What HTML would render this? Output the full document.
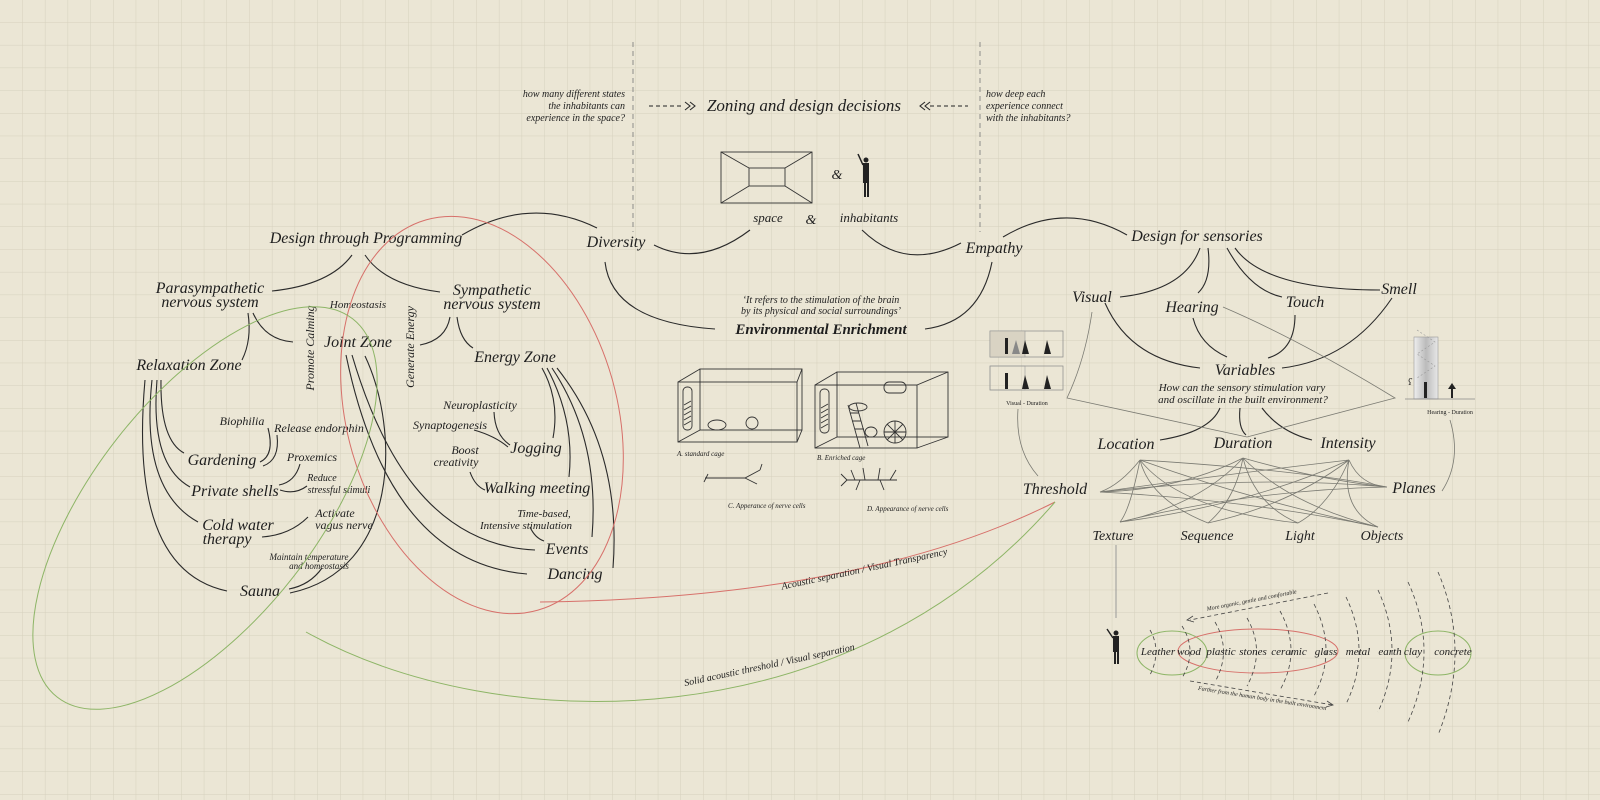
<!DOCTYPE html>
<html><head><meta charset="utf-8"><style>
html,body{margin:0;padding:0;background:#ebe6d5;}
svg{display:block;}
text{font-family:"Liberation Serif",serif;font-style:italic;fill:#1e1e1e;}
.L{font-size:16px;}
.S{font-size:12px;}
.T{font-size:10px;}
.ln{fill:none;stroke:#2a2a2a;stroke-width:1.1;}
.th{fill:none;stroke:#7a7a72;stroke-width:0.8;}
.sk{fill:none;stroke:#333;stroke-width:0.9;}
</style></head><body>
<svg width="1600" height="800" viewBox="0 0 1600 800" xmlns="http://www.w3.org/2000/svg">
<defs>
<pattern id="g" width="22.7" height="22.7" patternUnits="userSpaceOnUse" x="0" y="0">
<path d="M22.7 0V22.7M0 22.7H22.7" stroke="#d6d0bd" stroke-width="1" fill="none"/>
</pattern>
<linearGradient id="hg" x1="0" x2="1"><stop offset="0" stop-color="#eee"/><stop offset="0.5" stop-color="#bbb"/><stop offset="1" stop-color="#e8e8e8"/></linearGradient>
</defs>
<rect width="1600" height="800" fill="#ebe6d5"/>
<rect width="1600" height="800" fill="url(#g)"/>

<!-- top -->
<line x1="633" y1="42" x2="633" y2="232" stroke="#777" stroke-dasharray="5,4" stroke-width="0.8"/>
<line x1="980" y1="42" x2="980" y2="232" stroke="#777" stroke-dasharray="5,4" stroke-width="0.8"/>
<g class="T" text-anchor="end"><text x="625" y="97">how many different states</text><text x="625" y="109">the inhabitants can</text><text x="625" y="121">experience in the space?</text></g>
<g class="T"><text x="986" y="97">how deep each</text><text x="986" y="109">experience connect</text><text x="986" y="121">with the inhabitants?</text></g>
<text class="L" x="804" y="111" text-anchor="middle" style="font-size:17px">Zoning and design decisions</text>
<line x1="649" y1="106" x2="684" y2="106" stroke="#222" stroke-dasharray="4,3"/>
<path d="M685 102l5 4-5 4M690 102l5 4-5 4" class="ln"/>
<line x1="930" y1="106" x2="968" y2="106" stroke="#222" stroke-dasharray="4,3"/>
<path d="M925 102l-5 4 5 4M930 102l-5 4 5 4" class="ln"/>
<!-- space sketch -->
<rect x="721" y="152" width="91" height="51" class="sk"/>
<rect x="749" y="168" width="36" height="18" class="sk"/>
<path d="M721 152L749 168M812 152L785 168M721 203L749 186M812 203L785 186" class="sk"/>
<text x="837" y="179" text-anchor="middle" style="font-size:14px">&amp;</text>
<g fill="#222"><circle cx="866" cy="160" r="2.5"/><rect x="863" y="163" width="6" height="20"/><rect x="864" y="183" width="2" height="14"/><rect x="867" y="183" width="2" height="14"/><path d="M863 165L858 154" stroke="#222" stroke-width="1.5"/></g>
<text class="S" x="768" y="222" text-anchor="middle" style="font-size:13px">space</text>
<text x="811" y="224" text-anchor="middle" style="font-size:14px">&amp;</text>
<text class="S" x="869" y="222" text-anchor="middle" style="font-size:13px">inhabitants</text>

<text class="L" x="366" y="243" text-anchor="middle">Design through Programming</text>
<text class="L" x="616" y="247" text-anchor="middle">Diversity</text>
<text class="L" x="994" y="253" text-anchor="middle">Empathy</text>
<text class="L" x="1197" y="241" text-anchor="middle">Design for sensories</text>
<path class="ln" d="M462 235Q530 195 597 228"/>
<path class="ln" d="M654 245Q700 268 750 230"/>
<path class="ln" d="M862 230Q905 272 961 243"/>
<path class="ln" d="M1003 237Q1065 200 1127 235"/>
<path class="ln" d="M605 262Q612 322 715 329"/>
<path class="ln" d="M992 262Q980 322 925 329"/>
<g class="T" text-anchor="middle"><text x="821" y="303">‘It refers to the stimulation of the brain</text><text x="821" y="314">by its physical and social surroundings’</text></g>
<text x="821" y="334" text-anchor="middle" style="font-size:15px;font-weight:bold">Environmental Enrichment</text>

<!-- cages -->
<g class="sk">
<rect x="678" y="382" width="119" height="60"/><rect x="700" y="369" width="102" height="61"/>
<path d="M678 382L700 369M797 382L802 369M678 442L700 430M797 442L802 430"/>
<rect x="683" y="387" width="9" height="43" rx="4"/>
<path d="M684 405l7-4M684 410l7-4M684 415l7-4M684 420l7-4M684 425l7-4"/>
<ellipse cx="717" cy="425" rx="9" ry="5"/><ellipse cx="752" cy="423" rx="6" ry="6"/>
<rect x="815" y="385" width="102" height="63"/><rect x="837" y="372" width="111" height="65"/>
<path d="M815 385L837 372M917 385L948 372M815 448L837 437M917 448L948 437"/>
<rect x="820" y="389" width="9" height="44" rx="4"/>
<path d="M821 408l7-4M821 413l7-4M821 418l7-4M821 423l7-4M821 428l7-4"/>
<rect x="884" y="382" width="22" height="11" rx="5"/>
<path d="M848 405L860 448M856 403L868 446M850 413h9M852 421h9M855 429h9M857 437h9"/>
<ellipse cx="858" cy="407" rx="9" ry="4"/><ellipse cx="871" cy="432" rx="6" ry="5"/>
<circle cx="895" cy="432" r="11"/><path d="M884 432h22M895 421v22M887 424l16 16M903 424l-16 16"/>
<path d="M705 478h40l15-8M745 478l12 6M708 474l-4 8M760 470l2-6"/>
<path d="M847 480h50M855 480l-4-10M865 480l-2-12M878 480l2-12M890 480l6-10M860 480l-4 10M880 480l4 10M847 480l-6 6M847 480l-6-6"/>
</g>
<g style="font-size:7px" font-family="Liberation Sans"><text x="677" y="456">A. standard cage</text><text x="817" y="460">B. Enriched cage</text><text x="728" y="508">C. Apperance of nerve cells</text><text x="867" y="511">D. Appearance of nerve cells</text></g>

<!-- left tree -->
<text class="L" x="210" y="293" text-anchor="middle">Parasympathetic</text>
<text class="L" x="210" y="307" text-anchor="middle">nervous system</text>
<text class="L" x="492" y="295" text-anchor="middle">Sympathetic</text>
<text class="L" x="492" y="309" text-anchor="middle">nervous system</text>
<text class="T" x="358" y="308" text-anchor="middle" style="font-size:11px">Homeostasis</text>
<text class="S" transform="translate(314 348) rotate(-90)" text-anchor="middle">Promote Calming</text>
<text class="S" transform="translate(414 347) rotate(-90)" text-anchor="middle">Generate Energy</text>
<text class="L" x="358" y="347" text-anchor="middle">Joint Zone</text>
<text class="L" x="189" y="370" text-anchor="middle">Relaxation Zone</text>
<text class="L" x="515" y="362" text-anchor="middle">Energy Zone</text>
<g class="S" text-anchor="middle"><text x="480" y="409">Neuroplasticity</text><text x="450" y="429">Synaptogenesis</text><text x="465" y="454">Boost</text><text x="456" y="466">creativity</text>
<text x="242" y="425">Biophilia</text><text x="319" y="432">Release endorphin</text><text x="312" y="461">Proxemics</text>
<text x="322" y="481" style="font-size:10px">Reduce</text><text x="339" y="493" style="font-size:10px">stressful stimuli</text>
<text x="335" y="517">Activate</text><text x="344" y="529">vagus nerve</text>
<text x="544" y="517" style="font-size:11px">Time-based,</text><text x="526" y="529" style="font-size:11px">Intensive stimulation</text></g>
<g class="T" text-anchor="middle" style="font-size:9px"><text x="309" y="560">Maintain temperature</text><text x="319" y="569">and homeostasis</text></g>
<g class="L" text-anchor="middle"><text x="222" y="465">Gardening</text><text x="235" y="496">Private shells</text><text x="238" y="530">Cold water</text><text x="227" y="544">therapy</text><text x="260" y="596">Sauna</text>
<text x="536" y="453">Jogging</text><text x="537" y="493">Walking meeting</text><text x="567" y="554">Events</text><text x="575" y="579">Dancing</text></g>
<g class="ln">
<path d="M352 255Q330 285 272 291"/><path d="M365 255Q385 285 440 292"/>
<path d="M248 313Q252 340 242 360"/><path d="M253 313Q265 340 293 342"/>
<path d="M450 317Q446 340 420 345"/><path d="M457 317Q460 340 473 348"/>
<path d="M161 380Q160 440 184 453"/><path d="M157 380Q150 465 190 487"/><path d="M152 380Q140 490 198 522"/><path d="M145 380Q128 570 227 591"/>
<path d="M365 356C400 430 400 570 290 593"/><path d="M352 355C380 450 430 545 535 550"/><path d="M346 355C370 470 420 565 527 574"/>
<path d="M542 368Q560 400 553 438"/><path d="M547 368Q575 420 569 477"/><path d="M552 368Q600 440 592 537"/><path d="M557 368Q622 450 613 568"/>
<path d="M268 428Q275 455 260 462"/><path d="M277 435Q280 460 263 466"/>
<path d="M300 464Q295 482 279 485"/><path d="M280 490Q295 495 307 486"/>
<path d="M308 517Q290 535 262 537"/><path d="M322 568Q310 585 289 589"/>
<path d="M494 412Q495 435 510 445"/><path d="M474 430Q495 436 508 447"/>
<path d="M470 472Q475 486 485 490"/><path d="M530 527Q535 538 544 541"/>
</g>

<!-- ellipses -->
<ellipse cx="482" cy="415" rx="203" ry="135" transform="rotate(74 482 415)" fill="none" stroke="#d7706a" stroke-width="1"/>
<ellipse cx="205" cy="508" rx="240" ry="112" transform="rotate(-52 205 508)" fill="none" stroke="#8db566" stroke-width="1"/>
<path d="M540 602C700 600 900 580 1055 502" fill="none" stroke="#d7706a" stroke-width="1"/>
<path d="M306 632C500 740 850 740 1055 502" fill="none" stroke="#8db566" stroke-width="1"/>
<text class="T" transform="translate(865 572) rotate(-12)" text-anchor="middle">Acoustic separation / Visual Transparency</text>
<text class="T" transform="translate(770 668) rotate(-12)" text-anchor="middle">Solid acoustic threshold / Visual separation</text>

<!-- right tree -->
<g class="L" text-anchor="middle"><text x="1092" y="302">Visual</text><text x="1192" y="312">Hearing</text><text x="1305" y="307">Touch</text><text x="1399" y="294">Smell</text>
<text x="1245" y="375">Variables</text><text x="1126" y="449">Location</text><text x="1243" y="448">Duration</text><text x="1348" y="448">Intensity</text>
<text x="1055" y="494">Threshold</text><text x="1414" y="493">Planes</text>
<text x="1113" y="540" style="font-size:14px">Texture</text><text x="1207" y="540" style="font-size:14px">Sequence</text><text x="1300" y="540" style="font-size:14px">Light</text><text x="1382" y="540" style="font-size:14px">Objects</text></g>
<g class="T" text-anchor="middle" style="font-size:11px"><text x="1242" y="391">How can the sensory stimulation vary</text><text x="1243" y="403">and oscillate in the built environment?</text></g>
<g class="ln">
<path d="M1200 248Q1185 290 1120 297"/><path d="M1208 248Q1212 280 1198 293"/><path d="M1227 248Q1250 290 1282 297"/><path d="M1235 248Q1265 290 1380 290"/>
<path d="M1105 303Q1130 360 1200 368"/><path d="M1193 318Q1200 345 1227 357"/><path d="M1295 315Q1295 350 1268 358"/><path d="M1392 298Q1350 360 1282 368"/>
<path d="M1220 408Q1210 432 1160 440"/><path d="M1240 408Q1238 428 1246 435"/><path d="M1262 408Q1280 432 1312 440"/>
</g>
<g class="th">
<path d="M1092 312Q1085 360 1067 398L1247 437L1395 398Q1300 340 1223 307"/>
<path d="M1018 409Q1015 450 1038 476"/><path d="M1442 491Q1462 460 1450 420"/>
<path d="M1140 460Q1120 485 1100 492M1140 460Q1150 500 1208 523M1140 460Q1180 510 1298 523M1140 460Q1250 500 1378 527M1140 460Q1130 510 1120 522M1140 460Q1300 470 1387 487"/>
<path d="M1243 458Q1180 490 1100 492M1243 458Q1200 505 1120 522M1243 458Q1235 500 1208 523M1243 458Q1255 505 1298 523M1243 458Q1290 505 1378 527M1243 458Q1320 480 1387 487"/>
<path d="M1349 460Q1220 475 1100 492M1349 460Q1250 505 1120 522M1349 460Q1290 505 1208 523M1349 460Q1330 505 1298 523M1349 460Q1340 510 1378 527M1349 460Q1360 485 1387 487"/>
<path d="M1100 492Q1250 475 1387 487M1120 522Q1250 490 1387 487M1100 492Q1250 500 1378 527"/>
</g>
<!-- visual duration -->
<rect x="990" y="331" width="73" height="26" fill="none" stroke="#888" stroke-width="0.7"/>
<rect x="990" y="331" width="35" height="26" fill="#d9d3c3" stroke="#999" stroke-width="0.6"/>
<rect x="990" y="366" width="73" height="24" fill="none" stroke="#888" stroke-width="0.7"/>
<rect x="990" y="366" width="35" height="24" fill="none" stroke="#999" stroke-width="0.6"/>
<g fill="#222"><rect x="1005" y="338" width="3" height="16"/><path d="M1012 354l4-14 4 14z" fill="#888"/><path d="M1022 354l3-14 4 14z"/><path d="M1044 354l3-14 4 14z"/>
<rect x="1005" y="373" width="3" height="16"/><path d="M1022 389l3-14 4 14z"/><path d="M1044 389l3-14 4 14z"/></g>
<text x="1027" y="405" text-anchor="middle" font-family="Liberation Sans" style="font-size:6px;font-style:normal">Visual - Duration</text>
<!-- hearing duration -->
<rect x="1414" y="337" width="24" height="62" fill="url(#hg)" stroke="#999" stroke-width="0.6"/>
<path d="M1417 330l18 12-18 12 18 12-18 12" fill="none" stroke="#999" stroke-dasharray="2,2" stroke-width="0.6"/>
<line x1="1405" y1="399" x2="1475" y2="399" stroke="#888" stroke-width="0.7"/>
<rect x="1424" y="382" width="3" height="16" fill="#222"/><rect x="1451" y="387" width="2" height="11" fill="#222"/><path d="M1448 389l4-6 4 6z" fill="#222"/>
<text x="1408" y="385" style="font-size:9px">ʕ</text>
<text x="1450" y="414" text-anchor="middle" font-family="Liberation Sans" style="font-size:6px;font-style:normal">Hearing - Duration</text>

<!-- material scale -->
<line x1="1116" y1="545" x2="1116" y2="618" stroke="#999" stroke-width="1"/>
<g fill="#222"><circle cx="1116" cy="633" r="2.5"/><rect x="1113" y="636" width="6" height="16"/><rect x="1114" y="651" width="2" height="13"/><rect x="1117" y="651" width="2" height="13"/><path d="M1113 638L1107 629" stroke="#222" stroke-width="1.4"/></g>
<ellipse cx="1172" cy="653" rx="35" ry="22" fill="none" stroke="#8db566" stroke-width="1"/>
<ellipse cx="1258" cy="651" rx="80" ry="22" fill="none" stroke="#d7706a" stroke-width="1"/>
<ellipse cx="1438" cy="653" rx="33" ry="22" fill="none" stroke="#8db566" stroke-width="1"/>
<g fill="none" stroke="#444" stroke-width="0.8" stroke-dasharray="4,3">
<path d="M1150 630Q1162 651 1150 675"/><path d="M1182 626Q1198 651 1182 678"/><path d="M1215 622Q1232 651 1215 682"/><path d="M1247 618Q1266 651 1247 686"/>
<path d="M1280 611Q1302 651 1280 690"/><path d="M1314 604Q1338 651 1314 696"/><path d="M1346 597Q1372 651 1346 704"/><path d="M1378 590Q1406 651 1378 712"/>
<path d="M1408 582Q1440 651 1408 722"/><path d="M1438 572Q1472 651 1438 735"/>
<path d="M1328 593L1190 620"/><path d="M1190 681L1333 705"/>
</g>
<path d="M1193 616l-6 4 7 2" fill="none" stroke="#444" stroke-width="0.8"/>
<path d="M1327 701l6 4-7 2" fill="none" stroke="#444" stroke-width="0.8"/>
<g class="T" text-anchor="middle" style="font-size:11px"><text x="1158" y="655">Leather</text><text x="1189" y="655">wood</text><text x="1221" y="655">plastic</text><text x="1253" y="655">stones</text><text x="1289" y="655">ceramic</text><text x="1326" y="655">glass</text><text x="1358" y="655">metal</text><text x="1390" y="655">earth</text><text x="1413" y="655">clay</text><text x="1453" y="655">concrete</text></g>
<text transform="translate(1252 602) rotate(-11)" text-anchor="middle" style="font-size:6px">More organic, gentle and comfortable</text>
<text transform="translate(1262 700) rotate(9)" text-anchor="middle" style="font-size:6px">Farther from the human body in the built environment</text>
</svg>
</body></html>
